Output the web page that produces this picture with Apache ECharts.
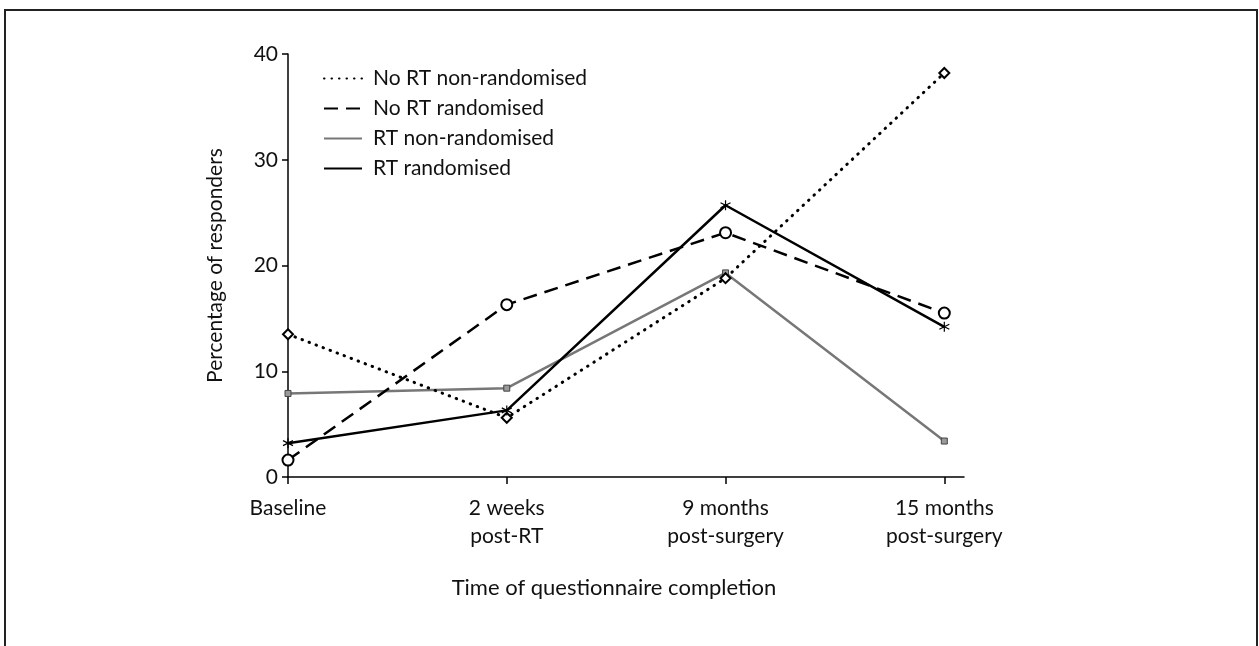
<!DOCTYPE html>
<html>
<head>
<meta charset="utf-8">
<script src="https://cdn.jsdelivr.net/npm/echarts@6/dist/echarts.min.js"></script>
<style>
  html, body { margin: 0; padding: 0; background: #fff; }
  #chart { width: 1259px; height: 646px; }
</style>
</head>
<body>
<div id="chart"></div>
<script>
// Time points of questionnaire completion (two-line labels)
const categories = ['Baseline', '2 weeks\npost-RT', '9 months\npost-surgery', '15 months\npost-surgery'];

// Percentage of responders per group
const seriesNames = ['No RT non-randomised', 'No RT randomised', 'RT non-randomised', 'RT randomised'];
const noRtNonRandomised = [13.5, 5.6, 18.8, 38.2];
const noRtRandomised    = [1.6, 16.3, 23.1, 15.5];
const rtNonRandomised   = [7.9, 8.4, 19.3, 3.4];
const rtRandomised      = [3.2, 6.3, 25.7, 14.2];

const yTicks = [0, 10, 20, 30, 40];

const FONT = 'Lato';
const asterisk = 'path://M5,0 L5,10 M0.67,2.5 L9.33,7.5 M0.67,7.5 L9.33,2.5';

function points(values) {
  return values.map((v, i) => [i, v]);
}

const chart = echarts.init(document.getElementById('chart'), null, { renderer: 'canvas' });

chart.setOption({
  backgroundColor: '#fff',
  animation: false,
  textStyle: { fontFamily: FONT, color: '#111' },
  grid: { left: 288, right: 295, top: 54, bottom: 169, containLabel: false },
  legend: {
    left: 318,
    top: 63,
    orient: 'vertical',
    itemWidth: 38,
    itemHeight: 14,
    itemGap: 9,
    itemStyle: { opacity: 0 },
    textStyle: { fontFamily: FONT, fontSize: 21, lineHeight: 21, color: '#111', padding: [0, 0, 0, 6] },
    data: seriesNames
  },
  xAxis: {
    type: 'value',
    min: 0,
    max: 3.09,
    interval: 1,
    name: 'Time of questionnaire completion',
    nameLocation: 'middle',
    nameGap: 100,
    nameTextStyle: { fontFamily: FONT, fontSize: 22, color: '#111', padding: [0, 24, 0, 0] },
    axisLine: { show: true, lineStyle: { color: '#000', width: 1.5 } },
    axisTick: { show: true, customValues: [0, 1, 2, 3], length: 7, lineStyle: { color: '#000', width: 1.5 } },
    axisLabel: {
      customValues: [0, 1, 2, 3],
      formatter: (v) => categories[Math.round(v)] || '',
      fontFamily: FONT,
      fontSize: 21,
      lineHeight: 28,
      color: '#111',
      margin: 17
    },
    splitLine: { show: false }
  },
  yAxis: {
    type: 'value',
    min: yTicks[0],
    max: yTicks[yTicks.length - 1],
    interval: 10,
    name: 'Percentage of responders',
    nameLocation: 'middle',
    nameGap: 62,
    nameTextStyle: { fontFamily: FONT, fontSize: 21, color: '#111' },
    axisLine: { show: true, lineStyle: { color: '#000', width: 1.5 } },
    axisTick: { show: true, length: 6, lineStyle: { color: '#000', width: 1.5 } },
    axisLabel: { fontFamily: FONT, fontSize: 21, color: '#111', margin: 10 },
    splitLine: { show: false }
  },
  graphic: [{
    type: 'polyline',
    silent: true,
    shape: { points: [[5, 646], [5, 10], [1257, 10], [1257, 646]] },
    style: { stroke: '#222', lineWidth: 2, fill: null }
  }],
  series: [
    {
      name: seriesNames[0],
      type: 'line',
      data: points(noRtNonRandomised),
      symbol: 'emptyDiamond',
      symbolSize: 10,
      z: 3,
      itemStyle: { color: '#000', borderWidth: 1.2 },
      lineStyle: { color: '#000', width: 3, type: [0.5, 7], cap: 'round' }
    },
    {
      name: seriesNames[1],
      type: 'line',
      data: points(noRtRandomised),
      symbol: 'emptyCircle',
      symbolSize: 11,
      z: 3,
      itemStyle: { color: '#000', borderWidth: 1.2 },
      lineStyle: { color: '#000', width: 2.5, type: [14, 8] }
    },
    {
      name: seriesNames[2],
      type: 'line',
      data: points(rtNonRandomised),
      symbol: 'rect',
      symbolSize: 6,
      z: 2,
      itemStyle: { color: '#9a9a9a', borderColor: '#444', borderWidth: 1 },
      lineStyle: { color: '#777', width: 2.5 }
    },
    {
      name: seriesNames[3],
      type: 'line',
      data: points(rtRandomised),
      symbol: asterisk,
      symbolSize: 10,
      z: 4,
      itemStyle: { color: 'transparent', borderColor: '#000', borderWidth: 1.2 },
      lineStyle: { color: '#000', width: 2.5 }
    }
  ]
});
</script>
</body>
</html>
